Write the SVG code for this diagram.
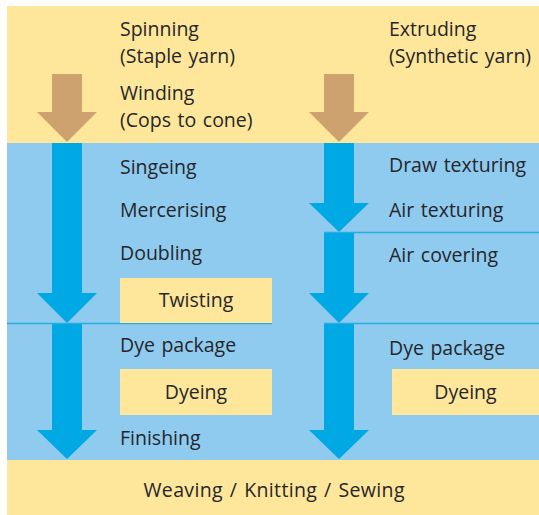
<svg xmlns="http://www.w3.org/2000/svg" width="539" height="515" viewBox="0 0 539 515">
  <style>
    .yel { fill: #fee79a; }
    .blu { fill: #8fcbef; }
    .arr { fill: #00a9e4; }
    .brn { fill: #cea26f; }
    .sep { stroke: #27ade3; stroke-width: 1.6; fill: none; }
    text { font-family: "Open Sans", "Noto Sans", "DejaVu Sans", sans-serif; font-size: 19.5px; word-spacing: 1.5px; fill: #26262a; }
    .c { text-anchor: middle; }
  </style>
  <rect width="539" height="515" fill="#ffffff"/>
  <g id="background">
    <rect class="yel" x="7" y="6" width="532" height="137"/>
    <rect class="blu" x="7" y="143" width="532" height="317"/>
    <rect class="yel" x="7" y="460" width="532" height="55"/>
  </g>
  <g id="connectors">
    <polygon class="brn" points="52,74 82,74 82,112 97,112 67,142 37,112 52,112"/>
    <polygon class="brn" points="324,74 354,74 354,112 369,112 339,142 309,112 324,112"/>
    <polygon class="arr" points="52,143 82,143 82,293 97,293 67,323 37,293 52,293"/>
    <polygon class="arr" points="52,324 82,324 82,430 97,430 67,459 37,430 52,430"/>
    <polygon class="arr" points="324,143 354,143 354,203 369,203 339,232 309,203 324,203"/>
    <polygon class="arr" points="324,233 354,233 354,293 369,293 339,323 309,293 324,293"/>
    <polygon class="arr" points="324,324 354,324 354,430 369,430 339,459 309,430 324,430"/>
    <line class="sep" x1="7" y1="323.5" x2="272" y2="323.5"/>
    <line class="sep" x1="324" y1="232.5" x2="539" y2="232.5"/>
    <line class="sep" x1="324" y1="323.5" x2="539" y2="323.5"/>
  </g>
  <g id="spinning"><text x="120" y="36">Spinning</text><text x="120" y="63">(Staple yarn)</text></g>
  <g id="winding"><text x="120" y="100">Winding</text><text x="120" y="127">(Cops to cone)</text></g>
  <g id="extruding"><text x="389" y="36">Extruding</text><text x="389" y="63">(Synthetic yarn)</text></g>
  <g id="singeing"><text x="120" y="174">Singeing</text></g>
  <g id="mercerising"><text x="120" y="217">Mercerising</text></g>
  <g id="doubling"><text x="120" y="260">Doubling</text></g>
  <g id="twisting"><rect class="yel" x="120" y="278" width="152" height="45"/><text class="c" x="196" y="307">Twisting</text></g>
  <g id="dye-package-left"><text x="120" y="352">Dye package</text></g>
  <g id="dyeing-left"><rect class="yel" x="120" y="369" width="152" height="46"/><text class="c" x="196" y="399">Dyeing</text></g>
  <g id="finishing"><text x="120" y="445">Finishing</text></g>
  <g id="draw-texturing"><text x="389" y="172">Draw texturing</text></g>
  <g id="air-texturing"><text x="389" y="217">Air texturing</text></g>
  <g id="air-covering"><text x="389" y="262">Air covering</text></g>
  <g id="dye-package-right"><text x="389" y="355">Dye package</text></g>
  <g id="dyeing-right"><rect class="yel" x="392" y="369" width="147" height="46"/><text class="c" x="465.5" y="399">Dyeing</text></g>
  <g id="weaving"><text class="c" x="274" y="497" textLength="261" lengthAdjust="spacing">Weaving / Knitting / Sewing</text></g>
</svg>
